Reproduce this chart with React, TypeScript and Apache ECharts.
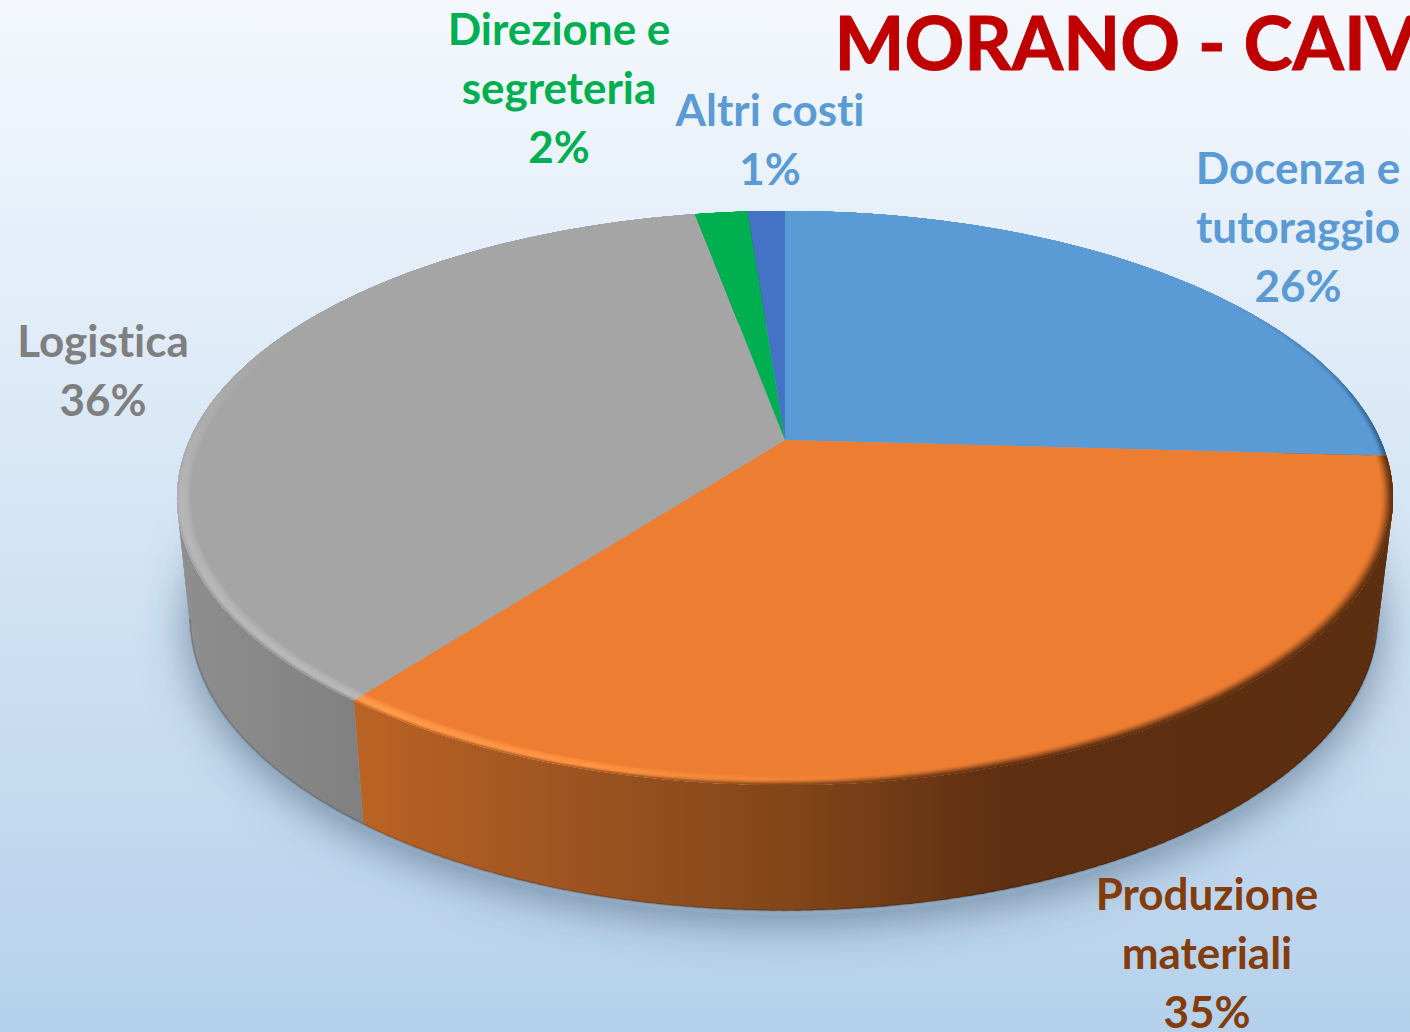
import React, { useEffect, useRef } from "react";
import * as echarts from "echarts";

const sliceNames = ["Docenza e\ntutoraggio", "Produzione\nmateriali", "Logistica", "Direzione e\nsegreteria", "Altri costi"];
const sliceValues = [25.9, 34.5, 36.7, 1.7, 1.2];
const percentLabels = ["26%", "35%", "36%", "2%", "1%"];
const titleText = "MORANO - CAIV";

const topColors = ["#5B9BD5", "#ED7D31", "#A5A5A5", "#00B050", "#4472C4"];
const labelColors = ["#5B9BD5", "#843C0C", "#7F7F7F", "#00B050", "#5B9BD5"];
const labelAnchors = [[1298, 226], [1207, 952], [103, 369], [559, 87], [770, 138]];
const FONT = "Lato";

// projection of the pie disc
const top = { cx: 785, cy: 440, a: 595.5, b: 275.3, p: 0.202 };
const bottom = { cx: 784, cy: 558, a: 582, b: 282, p: 0.2 };
const total = sliceValues.reduce((s, v) => s + v, 0);
const starts = sliceValues.reduce<number[]>((acc, v, i) => { acc.push(i === 0 ? 0 : acc[i - 1] + sliceValues[i - 1]); return acc; }, []);
const proj = (d: any, deg: number, r = 1) => {
  const t = (deg * Math.PI) / 180;
  const u = r * Math.sin(t), v = -r * Math.cos(t), k = 1 - d.p * v;
  return [d.cx + (d.a * u) / k, d.cy + (d.b * v) / k];
};
const arc = (d: any, a0: number, a1: number, r = 1) => {
  const n = Math.max(2, Math.ceil(Math.abs(a1 - a0)));
  const pts: number[][] = [];
  for (let i = 0; i <= n; i++) pts.push(proj(d, a0 + ((a1 - a0) * i) / n, r));
  return pts;
};
const angles = (i: number) => [(starts[i] / total) * 360, ((starts[i] + sliceValues[i]) / total) * 360];

const hex = (c: string) => [1, 3, 5].map((k) => parseInt(c.slice(k, k + 2), 16));
const mix = (a: string, b: string, t: number) => {
  const A = hex(a), B = hex(b);
  return "#" + A.map((x, i) => Math.round(x + (B[i] - x) * t).toString(16).padStart(2, "0")).join("");
};
const grad = (x0: number, y0: number, x1: number, y1: number, stops: [number, string][]) =>
  new echarts.graphic.LinearGradient(x0, y0, x1, y1, stops.map(([offset, color]) => ({ offset, color })), true);

// wall colours per slice, horizontal
const X0 = 176, X1 = 1391;
const xp = (x: number) => (x - X0) / (X1 - X0);
const wallStops: [number, string][][] = [
  [[0, "#2F5C88"], [1, "#2F5C88"]],
  [[xp(355), "#BB6324"], [xp(600), "#9A5220"], [xp(800), "#804519"], [xp(1000), "#5F2F11"], [1, "#5C2E10"]],
  [[0, "#8F8F8F"], [xp(362), "#808080"], [1, "#808080"]],
  [[0, "#00703A"], [1, "#00703A"]],
  [[0, "#2C4A80"], [1, "#2C4A80"]],
];
// bevel: along x for orange, along y (fading to the back) for the others
const bandT = [0, 0.1, 0.2, 0.3, 0.4, 0.5, 0.6, 0.7, 0.78, 0.86, 0.93];
const smooth = (e0: number, e1: number, t: number) => {
  const s = Math.min(1, Math.max(0, (t - e0) / (e1 - e0)));
  return s * s * (3 - 2 * s);
};
const bevelFill = (i: number, t: number) => {
  const H = Math.sin((Math.min(t / 0.6, 1) * Math.PI) / 2);
  if (i === 1) {
    const at = (x: number, hl: string, wall: string, rs: number): [number, string] =>
      [xp(x), mix(mix("#ED7D31", hl, H), wall, smooth(rs, 1.02, t))];
    return grad(X0, 0, X1, 0, [
      at(355, "#FF9A4B", "#BB6324", 0.72), at(600, "#FF9440", "#9A5220", 0.62), at(800, "#F48538", "#804519", 0.35),
      at(1000, "#ED7D31", "#5F2F11", 0.1), at(1391, "#ED7D31", "#5C2E10", 0.1),
    ]);
  }
  if (i === 2) {
    const c = (hl: string, wall: string) => mix(mix("#A5A5A5", hl, H), wall, smooth(0.7, 1.02, t));
    return grad(0, 340, 0, 660, [[0, "#A5A5A5"], [0.5, c("#B6B6B6", "#ACACAC")], [1, c("#B8B8B8", "#8E8E8E")]]);
  }
  const full = i === 0 ? mix("#5B9BD5", "#2F5C88", smooth(0.4, 1, t)) : topColors[i];
  return grad(0, 300, 0, 450, [[0, topColors[i]], [1, full]]);
};

const renderShadow = () => ({
  type: "group",
  children: [{
    type: "polygon",
    shape: { points: arc({ ...bottom, cy: bottom.cy + 4 }, 0, 360) },
    style: { fill: "#8FA9C2", shadowBlur: 48, shadowColor: "rgba(55,80,105,0.62)", shadowOffsetY: 6 },
    silent: true,
  }],
});
const renderWall = (params: any) => {
  const i = params.dataIndex;
  const [a0, a1] = angles(i);
  const fill = grad(X0, 0, X1, 0, wallStops[i]);
  const children: any[] = [];
  const n = Math.ceil(a1 - a0);
  for (let k = 0; k < n; k++) {
    const s0 = a0 + ((a1 - a0) * k) / n;
    const s1 = a0 + ((a1 - a0) * Math.min(k + 1.5, n)) / n;
    children.push({
      type: "polygon",
      shape: { points: [proj(top, s0), proj(top, s1), proj(bottom, s1), proj(bottom, s0)] },
      style: { fill },
      silent: true,
    });
  }
  // darker line along the foot of the front wall
  const f0 = Math.max(a0, 102), f1 = Math.min(a1, 258);
  if (f1 > f0) {
    children.push({
      type: "polyline",
      shape: { points: arc(bottom, f0, f1) },
      style: { fill: "none", stroke: "rgba(0,0,0,0.16)", lineWidth: 2 },
      silent: true,
    });
  }
  return { type: "group", children };
};
const renderTop = (params: any) => {
  const i = params.dataIndex;
  const [a0, a1] = angles(i);
  const children: any[] = [
    { type: "polygon", shape: { points: [[top.cx, top.cy], ...arc(top, a0, a1)] }, style: { fill: topColors[i] }, silent: true },
  ];
  bandT.forEach((t) => {
    const r = 0.976 + 0.024 * t;
    children.push({
      type: "polygon",
      shape: { points: [...arc(top, a0, a1, r), ...arc(top, a1, a0, 1)] },
      style: { fill: bevelFill(i, t) },
      silent: true,
    });
  });
  return { type: "group", children };
};

const labelTexts = sliceNames.map((n, i) => `${n}\n${percentLabels[i]}`);

export default function App() {
  const ref = useRef<HTMLDivElement>(null);
  useEffect(() => {
    document.body.style.margin = "0";
    const chart = echarts.init(ref.current!, undefined, { renderer: "svg" });
    const data = sliceValues.map((v, i) => [v, i]);
    chart.setOption({
      animation: false,
      backgroundColor: new echarts.graphic.LinearGradient(0, 0, 0, 1, [
        { offset: 0, color: "#F4F8FD" },
        { offset: 0.5, color: "#D5E5F5" },
        { offset: 1, color: "#B5D1EB" },
      ]),
      series: [
        { type: "custom", coordinateSystem: "none", z: 1, data: [[1, 0]], renderItem: renderShadow, silent: true },
        { type: "custom", coordinateSystem: "none", z: 2, data, renderItem: renderWall, silent: true },
        { type: "custom", coordinateSystem: "none", z: 3, data, renderItem: renderTop, silent: true },
      ],
      graphic: [
        {
          type: "text", left: 834, top: 4, z: 10, silent: true,
          style: { text: titleText, fill: "#C00000", font: `bold 74px ${FONT}`, stroke: "#C00000", lineWidth: 1 },
        },
        ...labelTexts.map((text, i) => ({
          type: "text", z: 10, silent: true,
          x: labelAnchors[i][0], y: labelAnchors[i][1],
          style: { text, fill: labelColors[i], font: `bold 44px ${FONT}`, lineHeight: 59, align: "center", verticalAlign: "middle" },
        })),
      ],
    });
    return () => chart.dispose();
  }, []);
  return (
    <>
      <style>{"text, tspan { font-variant-ligatures: none !important; }"}</style>
      <div ref={ref} style={{ width: 1410, height: 1032, overflow: "hidden" }} />
    </>
  );
}
